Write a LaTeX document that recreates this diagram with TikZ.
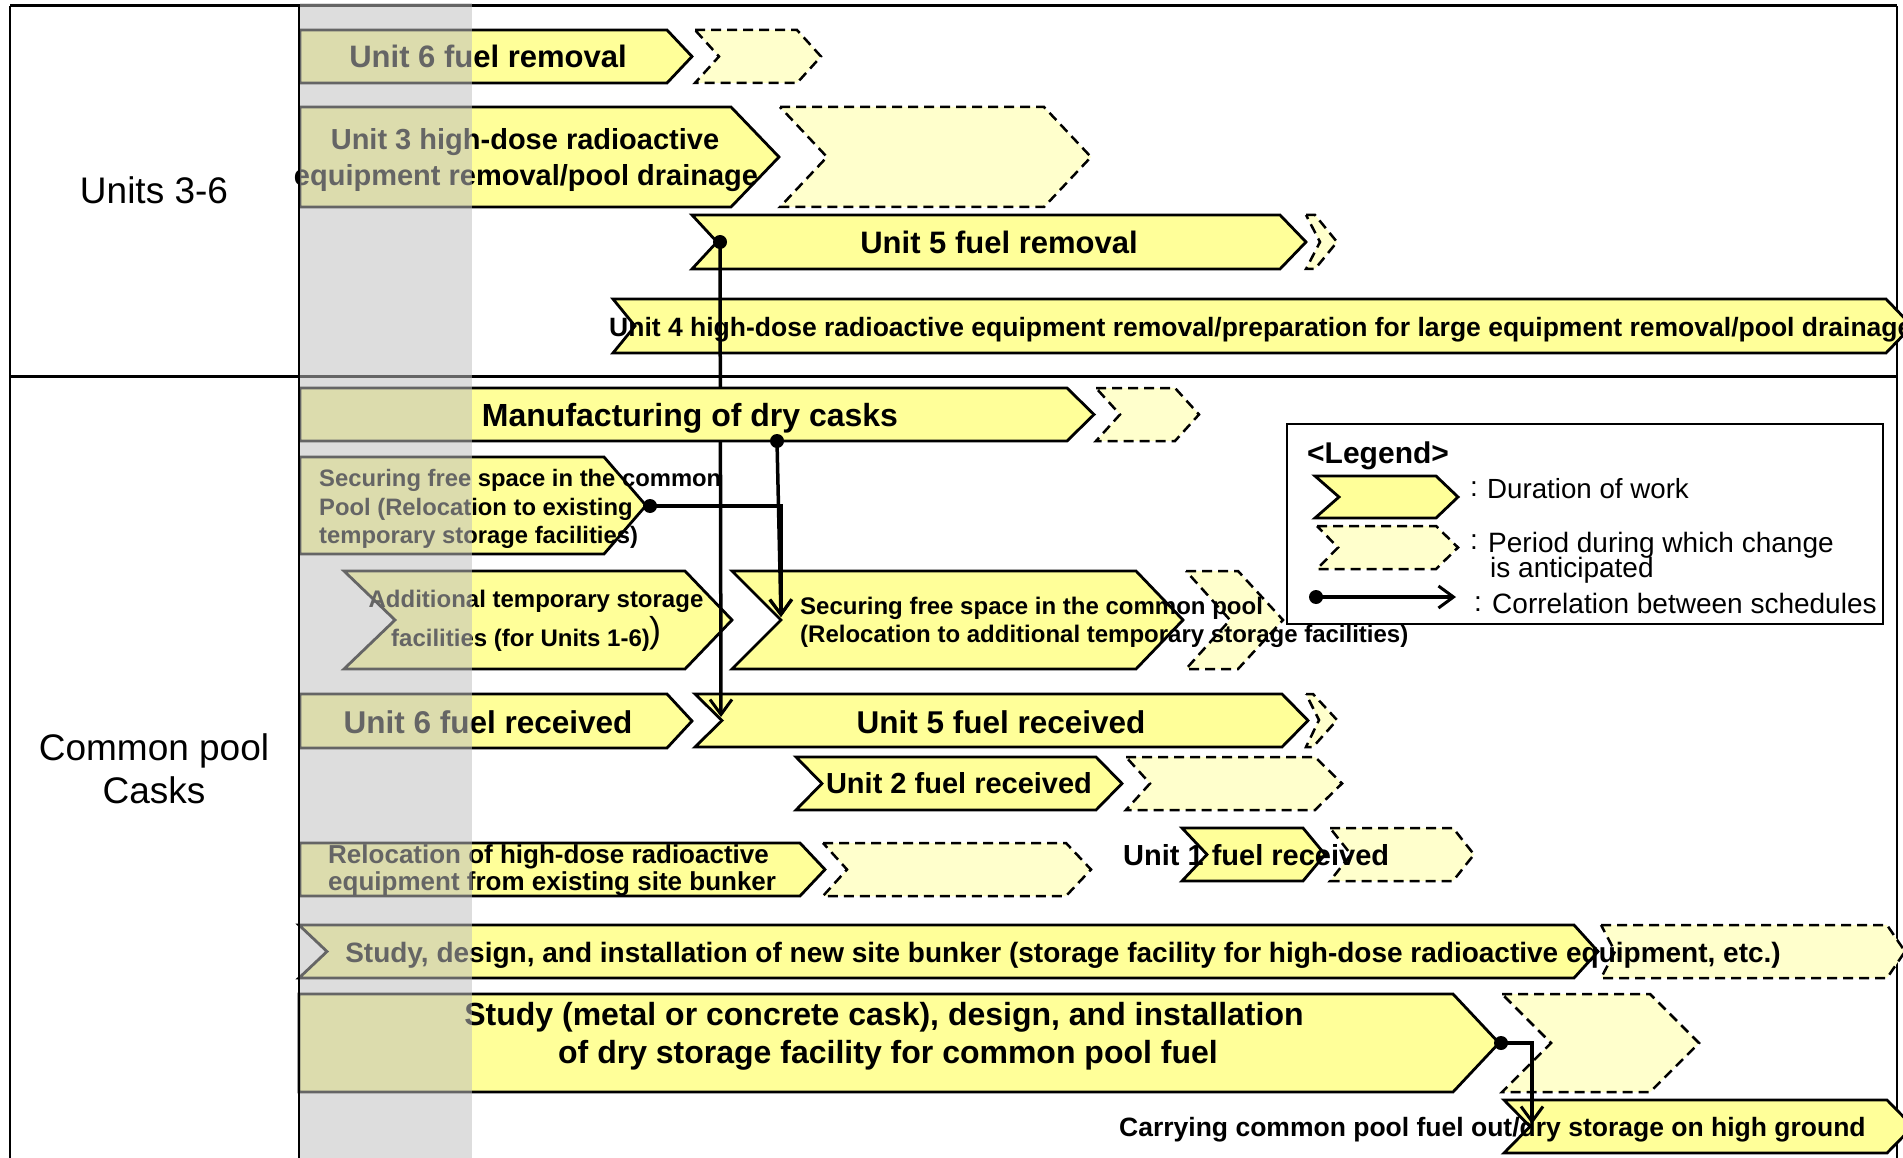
\documentclass[tikz,border=0pt]{standalone}
\usepackage{fontspec}
\setmainfont{Liberation Sans}
\usetikzlibrary{arrows.meta}

\definecolor{barfill}{HTML}{FFFF99}
\definecolor{planfill}{HTML}{FFFFCC}
\definecolor{bandgray}{RGB}{191,191,191}

\newcommand\fsz[1]{\fontsize{#1}{#1}\selectfont}
% chevron with a flat left end: style, x-left, x-corner, y-top, y-bottom, tip depth
\newcommand\flatchev[6]{%
  \path[#1] (#2,#4) -- (#3,#4) -- ({#3+#6},{(#4+#5)/2}) -- (#3,#5) -- (#2,#5) -- cycle;}
% chevron with a notched left end: style, x-left, x-corner, y-top, y-bottom, tip depth, notch depth
\newcommand\notchchev[7]{%
  \path[#1] (#2,#4) -- (#3,#4) -- ({#3+#6},{(#4+#5)/2}) -- (#3,#5) -- (#2,#5) -- ({#2+#7},{(#4+#5)/2}) -- cycle;}

\tikzset{
  work/.style={draw=black, line width=2.8pt, fill=barfill, line join=miter},
  plan/.style={draw=black, line width=2.5pt, fill=planfill, dash pattern=on 10pt off 6pt, line join=miter},
  corr/.style={line width=3.5pt, -{Straight Barb[length=15pt,width=22pt,line width=3pt]}},
  link/.style={line width=3.5pt},
  dot/.style={circle, fill=black, inner sep=0pt, minimum size=14pt},
  lbl/.style={inner sep=0pt, anchor=base},
  lblw/.style={inner sep=0pt, anchor=base west},
  grid/.style={draw=black, line width=2.2pt},
}

\begin{document}
\begin{tikzpicture}[x=1pt,y=-1pt]
\useasboundingbox (0,0) rectangle (1903,1158);
\clip (0,0) rectangle (1903,1158);

% ---------- table frame ----------
\draw[grid, line width=3pt] (10,6) -- (1897,6);
\draw[grid] (10,6) -- (10,1170);
\draw[grid] (299,6) -- (299,1170);
\draw[grid] (1897,6) -- (1897,1170);
\draw[grid, line width=3pt] (10,376) -- (1897,376);

\node[lbl, font=\fsz{37}] (rowA) at (154,204) {Units 3-6};
\node[lbl, font=\fsz{37}] (rowB1) at (154,760) {Common pool};
\node[lbl, font=\fsz{37}] (rowB2) at (154,803) {Casks};

% ---------- Units 3-6 ----------
\flatchev{work}{300}{667}{30}{83}{25}
\notchchev{plan}{695}{797}{30}{83}{24}{24}
\node[lbl, font=\bfseries\fsz{31}] (u6rem) at (488,68) {Unit 6 fuel removal};

\flatchev{work}{300}{731}{107}{207}{48}
\notchchev{plan}{780}{1044}{107}{207}{47}{47}
\node[lbl, font=\bfseries\fsz{29}] (u3a) at (525,150) {Unit 3 high-dose radioactive};
\node[lbl, font=\bfseries\fsz{29}] (u3b) at (526,186) {equipment removal/pool drainage};

\notchchev{work}{692}{1280}{215}{269}{26}{25}
\path[plan] (1306,215) -- (1315,215) -- (1337,242) -- (1315,269) -- (1306,269) -- (1320,242) -- cycle;
\node[lbl, font=\bfseries\fsz{31}] (u5rem) at (999,254) {Unit 5 fuel removal};

\notchchev{work}{613}{1886}{299}{353}{26}{22}
\node[lblw, font=\bfseries\fsz{26.5}] (u4) at (609,336)
  {Unit 4 high-dose radioactive equipment removal/preparation for large equipment removal/pool drainage};

% ---------- Common pool / casks ----------
\flatchev{work}{300}{604}{457}{554}{42}
\node[lblw, font=\bfseries\fsz{23.8}] (sfa) at (319,486) {Securing free space in the common};
\node[lblw, font=\bfseries\fsz{23.8}] (sfb) at (319,515) {Pool (Relocation to existing};
\node[lblw, font=\bfseries\fsz{23.8}] (sfc) at (319,543) {temporary storage facilities)};

\notchchev{work}{344}{685}{571}{669}{47}{51}
\node[lbl, font=\bfseries\fsz{24}] (ata) at (536,607) {Additional temporary storage};
\node[lblw, font=\bfseries\fsz{24}] (atb) at (391,646) {facilities (for Units 1-6)};
\node[lblw, font=\fsz{36}] (atp) at (649,642) {)};

\notchchev{work}{732}{1136}{571}{669}{47}{49}
\notchchev{plan}{1186}{1238}{571}{669}{45}{44}
\node[lblw, font=\bfseries\fsz{24}] (sna) at (800,614) {Securing free space in the common pool};
\node[lblw, font=\bfseries\fsz{24}] (snb) at (800,642) {(Relocation to additional temporary storage facilities)};

\flatchev{work}{300}{667}{694}{748}{25}
\node[lbl, font=\bfseries\fsz{31.5}] (u6rcv) at (488,733) {Unit 6 fuel received};

\notchchev{work}{695}{1282}{694}{747}{26}{27}
\path[plan] (1306,694) -- (1313,694) -- (1337,720) -- (1313,747) -- (1306,747) -- (1319,720) -- cycle;
\node[lbl, font=\bfseries\fsz{31.5}] (u5rcv) at (1001,733) {Unit 5 fuel received};

\notchchev{work}{796}{1096}{757}{810}{26}{26}
\notchchev{plan}{1126}{1315}{757}{810}{27}{24}
\node[lbl, font=\bfseries\fsz{29}] (u2rcv) at (959,793) {Unit 2 fuel received};

\flatchev{work}{300}{800}{843}{896}{25}
\notchchev{plan}{823}{1066}{843}{896}{25}{24}
\node[lblw, font=\bfseries\fsz{26}] (rla) at (328,863) {Relocation of high-dose radioactive};
\node[lblw, font=\bfseries\fsz{26}] (rlb) at (328,890) {equipment from existing site bunker};

\notchchev{work}{1182}{1303}{828}{881}{22}{25}
\notchchev{plan}{1330}{1453}{828}{881}{21}{21}
\node[lblw, font=\bfseries\fsz{29}] (u1rcv) at (1123,865) {Unit 1 fuel received};

\notchchev{work}{299}{1574}{925}{978}{24}{28}
\notchchev{plan}{1601}{1887}{925}{978}{18}{14}
\node[lbl, font=\bfseries\fsz{28}] (bunk) at (1063,962)
  {Study, design, and installation of new site bunker (storage facility for high-dose radioactive equipment, etc.)};

\flatchev{work}{299}{1453}{994}{1092}{46}
\notchchev{plan}{1502}{1650}{994}{1092}{49}{49}
\node[lbl, font=\bfseries\fsz{32}] (dsa) at (884,1025) {Study (metal or concrete cask), design, and installation};
\node[lbl, font=\bfseries\fsz{32}] (dsb) at (888,1063) {of dry storage facility for common pool fuel};

\notchchev{work}{1504}{1887}{1100}{1153}{26}{26}
\node[lblw, font=\bfseries\fsz{26.5}] (carry) at (1119,1136) {Carrying common pool fuel out/dry storage on high ground};

% ---------- correlations between schedules ----------
\coordinate (u5remStart) at (720,242);
\coordinate (u5rcvIn) at (721,717);
\coordinate (mfgStart) at (777,441);
\coordinate (sfStart) at (650,506);
\coordinate (snIn) at (781,617);
\coordinate (dsStart) at (1501,1043);
\coordinate (carryIn) at (1532,1124);

\draw[corr] (u5remStart) -- (u5rcvIn);
\draw[corr] (mfgStart) -- (snIn);
\draw[corr] (sfStart) -| (snIn);
\draw[corr] (dsStart) -| (carryIn);

% casks are manufactured above the correlation line from Unit 5
\flatchev{work}{300}{1067}{388}{441}{27}
\notchchev{plan}{1096}{1175}{388}{441}{24}{24}
\node[lbl, font=\bfseries\fsz{32}] (mfg) at (690,426) {Manufacturing of dry casks};

\node[dot] (dotU5) at (u5remStart) {};
\node[dot] (dotMfg) at (mfgStart) {};
\node[dot] (dotSf) at (sfStart) {};
\node[dot] (dotDs) at (dsStart) {};

% ---------- shaded period band ----------
\fill[bandgray, opacity=0.533] (300,3) rectangle (472,1170);

% ---------- legend ----------
\draw[line width=2pt, fill=white] (1287,424) rectangle (1883,624);
\node[lblw, font=\bfseries\fsz{30}] (lgTitle) at (1307,463) {<Legend>};
\notchchev{work}{1315}{1436}{476}{518}{22}{24}
\node[lblw, font=\fsz{28}] (lgc1) at (1470,496) {:};
\node[lblw, font=\fsz{27.7}] (lgWork) at (1487,498) {Duration of work};
\notchchev{plan}{1317}{1436}{526}{569}{22}{21}
\node[lblw, font=\fsz{28}] (lgc2) at (1470,549) {:};
\node[lblw, font=\fsz{28}] (lgPlanA) at (1488,552) {Period during which change};
\node[lblw, font=\fsz{28}] (lgPlanB) at (1490,577) {is anticipated};
\node[dot] (lgDot) at (1316,597) {};
\coordinate (lgTip) at (1456,597);
\draw[corr] (lgDot.center) -- (lgTip);
\node[lblw, font=\fsz{28}] (lgc3) at (1474,611) {:};
\node[lblw, font=\fsz{28}] (lgCorr) at (1492,613) {Correlation between schedules};
\end{tikzpicture}
\end{document}
